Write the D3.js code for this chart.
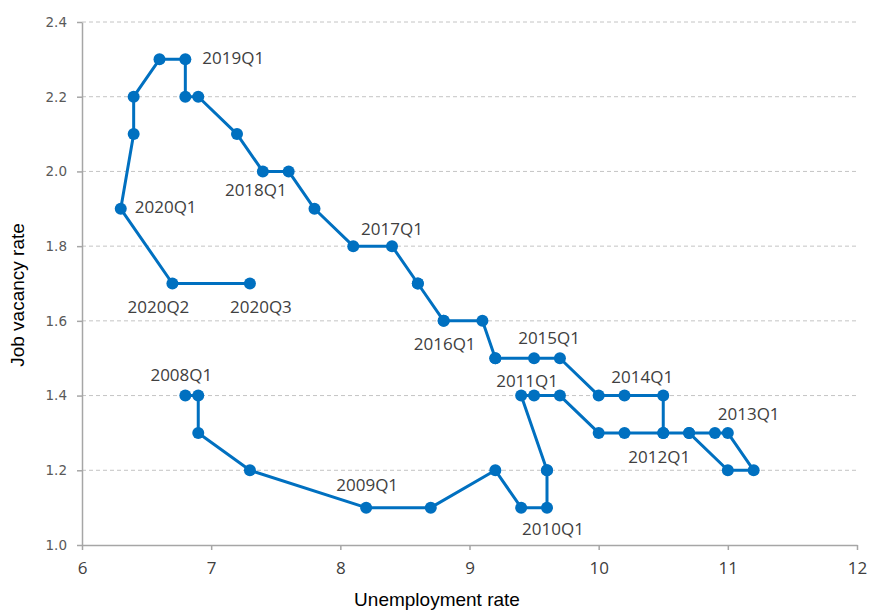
<!DOCTYPE html>
<html>
<head>
<meta charset="utf-8">
<script src="https://cdn.jsdelivr.net/npm/d3@7"></script>
<style>
  body { margin: 0; background: #fff; }
  svg { display: block; }
</style>
</head>
<body>
<div id="chart"></div>
<script>
// quarterly data, 2008Q1 .. 2020Q3
var quarters = [];
for (var yr = 2008; yr <= 2020; yr++) {
  for (var q = 1; q <= 4; q++) {
    if (yr === 2020 && q === 4) break;
    quarters.push(yr + "Q" + q);
  }
}

var unemployment = [
  6.8, 6.9, 6.9, 7.3,
  8.2, 8.7, 9.2, 9.4,
  9.6, 9.6, 9.6, 9.4,
  9.5, 9.7, 10.0, 10.2,
  10.5, 10.7, 10.9, 11.0,
  11.2, 11.0, 10.7, 10.5,
  10.5, 10.2, 10.0, 9.7,
  9.5, 9.2, 9.2, 9.1,
  8.8, 8.8, 8.6, 8.6,
  8.4, 8.1, 7.8, 7.6,
  7.4, 7.2, 6.9, 6.8,
  6.8, 6.6, 6.4, 6.4,
  6.3, 6.7, 7.3
];

var vacancies = [
  1.4, 1.4, 1.3, 1.2,
  1.1, 1.1, 1.2, 1.1,
  1.1, 1.2, 1.2, 1.4,
  1.4, 1.4, 1.3, 1.3,
  1.3, 1.3, 1.3, 1.3,
  1.2, 1.2, 1.3, 1.3,
  1.4, 1.4, 1.4, 1.5,
  1.5, 1.5, 1.5, 1.6,
  1.6, 1.6, 1.7, 1.7,
  1.8, 1.8, 1.9, 2.0,
  2.0, 2.1, 2.2, 2.2,
  2.3, 2.3, 2.2, 2.1,
  1.9, 1.7, 1.7
];

var labelledQuarters = ["2008Q1", "2009Q1", "2010Q1", "2011Q1", "2012Q1", "2013Q1",
  "2014Q1", "2015Q1", "2016Q1", "2017Q1", "2018Q1", "2019Q1", "2020Q1", "2020Q2", "2020Q3"];

var xTicks = [6, 7, 8, 9, 10, 11, 12];
var yTicks = [1.0, 1.2, 1.4, 1.6, 1.8, 2.0, 2.2, 2.4];

// where each data label sits relative to its point (px)
var labelPlace = {
  "2008Q1": { dx: -4, dy: -15, anchor: "middle" },
  "2009Q1": { dx: 1, dy: -17, anchor: "middle" },
  "2010Q1": { dx: 6, dy: 27, anchor: "middle" },
  "2011Q1": { dx: -7, dy: -9, anchor: "middle" },
  "2012Q1": { dx: -4, dy: 30, anchor: "middle" },
  "2013Q1": { dx: -5, dy: -50, anchor: "middle" },
  "2014Q1": { dx: -21, dy: -13, anchor: "middle" },
  "2015Q1": { dx: 15, dy: -14, anchor: "middle" },
  "2016Q1": { dx: 1, dy: 29, anchor: "middle" },
  "2017Q1": { dx: 0, dy: -11, anchor: "middle" },
  "2018Q1": { dx: -7, dy: 25, anchor: "middle" },
  "2019Q1": { dx: 17, dy: 5, anchor: "start" },
  "2020Q1": { dx: 14, dy: 4, anchor: "start" },
  "2020Q2": { dx: -14, dy: 29, anchor: "middle" },
  "2020Q3": { dx: 11, dy: 29, anchor: "middle" }
};

var svgWidth = 869;
var svgHeight = 610;
var margin = { top: 22, right: 12, bottom: 65, left: 82 };

var svg = d3.select("#chart")
  .append("svg")
  .attr("width", svgWidth)
  .attr("height", svgHeight);

var xScale = d3.scaleLinear()
  .domain([6, 12])
  .range([margin.left, svgWidth - margin.right]);

var yScale = d3.scaleLinear()
  .domain([1.0, 2.4])
  .range([svgHeight - margin.bottom, margin.top]);

var data = quarters.map(function(q, i) {
  return { q: q, u: unemployment[i], v: vacancies[i] };
});

// dashed gridlines
svg.append("g")
  .selectAll("line")
  .data(yTicks.slice(1))
  .enter()
  .append("line")
  .attr("x1", xScale(6))
  .attr("x2", xScale(12))
  .attr("y1", d => yScale(d))
  .attr("y2", d => yScale(d))
  .attr("stroke", "#c4c4c4")
  .attr("stroke-width", 1)
  .attr("stroke-dasharray", "4,3");

// axes
var bottomAxis = d3.axisBottom(xScale)
  .tickValues(xTicks)
  .tickSize(5)
  .tickSizeOuter(0)
  .tickPadding(12)
  .tickFormat(d3.format("d"));

var leftAxis = d3.axisLeft(yScale)
  .tickValues(yTicks)
  .tickSize(5)
  .tickSizeOuter(0)
  .tickPadding(10)
  .tickFormat(d3.format(".1f"));

var xAxisG = svg.append("g")
  .attr("transform", `translate(0, ${yScale(1.0)})`)
  .call(bottomAxis);

var yAxisG = svg.append("g")
  .attr("transform", `translate(${xScale(6)}, 0)`)
  .call(leftAxis);

[xAxisG, yAxisG].forEach(function(g) {
  g.select(".domain").attr("stroke", "#a6a6a6").attr("stroke-width", 1.5);
  g.selectAll(".tick line").attr("stroke", "#a6a6a6").attr("stroke-width", 1.5);
});

xAxisG.selectAll(".tick text")
  .attr("fill", "#404040")
  .style("font-family", "'Open Sans', sans-serif")
  .style("font-size", "17px");

yAxisG.selectAll(".tick text")
  .attr("fill", "#595959")
  .style("font-family", "'DejaVu Sans', sans-serif")
  .style("font-size", "13.5px");

// axis titles
svg.append("text")
  .attr("x", 437)
  .attr("y", 606)
  .attr("text-anchor", "middle")
  .attr("fill", "#000")
  .style("font-family", "'Liberation Sans', Arial, sans-serif")
  .style("font-size", "19px")
  .text("Unemployment rate");

svg.append("text")
  .attr("transform", "rotate(-90)")
  .attr("x", -295)
  .attr("y", 24)
  .attr("text-anchor", "middle")
  .attr("fill", "#000")
  .style("font-family", "'Liberation Sans', Arial, sans-serif")
  .style("font-size", "19px")
  .text("Job vacancy rate");

// the curve
var line = d3.line()
  .x(d => xScale(d.u))
  .y(d => yScale(d.v));

svg.append("path")
  .datum(data)
  .attr("d", line)
  .attr("fill", "none")
  .attr("stroke", "#0070c0")
  .attr("stroke-width", 3)
  .attr("stroke-linejoin", "round");

svg.append("g")
  .selectAll("circle")
  .data(data)
  .enter()
  .append("circle")
  .attr("cx", d => xScale(d.u))
  .attr("cy", d => yScale(d.v))
  .attr("r", 6)
  .attr("fill", "#0070c0");

// data labels
svg.append("g")
  .selectAll("text")
  .data(data.filter(d => labelledQuarters.indexOf(d.q) >= 0))
  .enter()
  .append("text")
  .attr("x", d => xScale(d.u) + labelPlace[d.q].dx)
  .attr("y", d => yScale(d.v) + labelPlace[d.q].dy)
  .attr("text-anchor", d => labelPlace[d.q].anchor)
  .attr("fill", "#404040")
  .style("font-family", "'Open Sans', sans-serif")
  .style("font-size", "17px")
  .text(d => d.q);
</script>
</body>
</html>
